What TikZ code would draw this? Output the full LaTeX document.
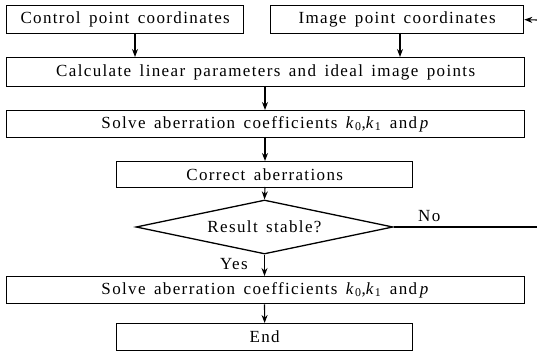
\documentclass[tikz,border=0pt]{standalone}
\usepackage{fontspec}
\setmainfont{Liberation Serif}[LetterSpace=8,WordSpace=1.5]
\usetikzlibrary{arrows.meta,shapes.geometric}
\begin{document}
\begin{tikzpicture}[x=1pt,y=-1pt,
  txt/.style={font=\fontsize{17}{19}\selectfont},
  box/.style={draw,line width=1.3pt,inner sep=0pt,anchor=north west,txt},
  arr/.style={line width=1.1pt,-{Stealth[length=8pt,width=6pt]}},
  lab/.style={txt,inner sep=0pt}]
\useasboundingbox (0,0) rectangle (537,352);
\node[box,minimum width=237pt,minimum height=28pt] (cp) at (6,5) {Control point coordinates};
\node[box,minimum width=253pt,minimum height=28pt] (ip) at (270,5) {Image point coordinates};
\node[box,minimum width=518pt,minimum height=29pt] (calc) at (6,57) {Calculate linear parameters and ideal image points};
\node[box,minimum width=518pt,minimum height=27pt] (solve1) at (6,110) {Solve aberration coefficients \textit{k}\textsubscript{0},\textit{k}\textsubscript{1} and\,\textit{p}};
\node[box,minimum width=296pt,minimum height=26pt] (corr) at (116,161) {Correct aberrations};
\node[draw,line width=1.3pt,diamond,aspect=4.7,inner sep=0pt,minimum width=257pt,minimum height=54pt,txt] (dec) at (264.5,227) {Result stable?};
\node[box,minimum width=518pt,minimum height=27pt] (solve2) at (6,276) {Solve aberration coefficients \textit{k}\textsubscript{0},\textit{k}\textsubscript{1} and\,\textit{p}};
\node[box,minimum width=296pt,minimum height=27pt] (end) at (116,323) {End};
\coordinate (r1) at (537,20);
\coordinate (r2) at (537,227);
\draw[arr] (135,33) -- (135,57);
\draw[arr] (400,33) -- (400,57);
\draw[arr] (265,86) -- (265,110);
\draw[arr] (265,137) -- (265,161);
\draw[arr] (265,187) -- (dec.north);
\draw[line width=1.1pt] (dec.east) -- (r2);
\draw[arr] (r1) -- (ip.east);
\draw[arr] (dec.south) -- (dec.south |- solve2.north);
\draw[arr] (dec.south |- solve2.south) -- (end.north);
\node[lab,anchor=south west] (no) at (418,222) {No};
\node[lab,anchor=south west] (yes) at (220,270) {Yes};
\end{tikzpicture}
\end{document}
